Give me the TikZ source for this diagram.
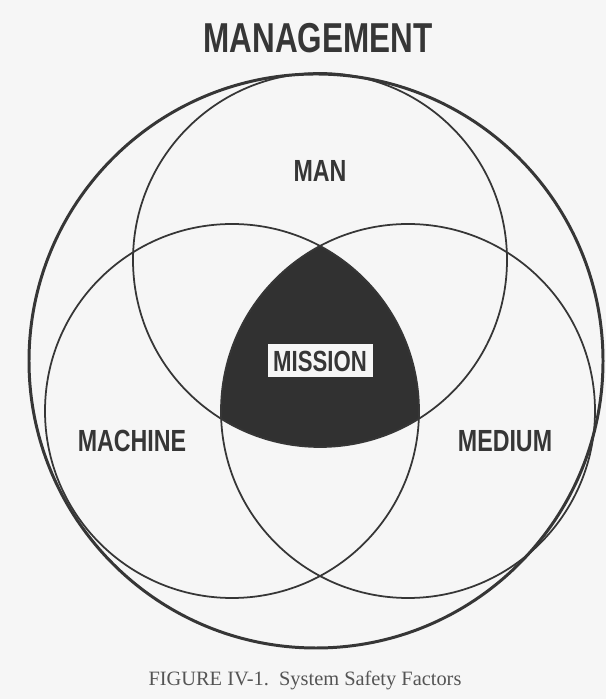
\documentclass[tikz,border=0pt]{standalone}
\usepackage{fontspec}
\setmainfont{Liberation Serif}
\setsansfont{Liberation Sans}
\usepackage{xcolor}
\usepackage{tikz}
\definecolor{inkgray}{HTML}{363636}
\definecolor{paper}{HTML}{F6F6F6}
\tikzset{
  label/.style={font=\sffamily\bfseries\fontsize{17.4}{18}\selectfont, text=inkgray, xscale=0.76, inner sep=0pt},
  ring/.style={draw=inkgray, line width=1.7pt},
  thin ring/.style={draw=inkgray, line width=1pt}
}

\begin{document}
\begin{tikzpicture}[x=0.02cm, y=0.02cm]
\fill[paper] (0,0) rectangle (606,699);
\useasboundingbox (0,0) rectangle (606,699);
% the shared part of the three factors
\begin{scope}
\clip (320,439) circle (187);
\clip (232,288) circle (187);
\fill[inkgray!90!black] (408,288) circle (187);
\end{scope}
\draw[thin ring] (320,439) circle (187);
\draw[thin ring] (232,288) circle (187);
\draw[thin ring] (408,288) circle (187);
\draw[ring] (316,338) circle (287);
\node[label, font=\sffamily\bfseries\fontsize{23.8}{25}\selectfont, xscale=0.99] (mgmt) at (318,661) {MANAGEMENT};
\node[label] (man) at (320,528) {MAN};
\node[label] (machine) at (132,258) {MACHINE};
\node[label] (medium) at (505,258) {MEDIUM};
\node[label, fill=paper, font=\sffamily\bfseries\fontsize{16.6}{17}\selectfont, minimum width=105*0.02cm/0.76, minimum height=33*0.02cm] (mission) at (320,338) {MISSION};
\node[font=\fontsize{11.6}{12}\selectfont, text=inkgray!85] (caption) at (305,18) {FIGURE IV-1.\ \ System Safety Factors};
\end{tikzpicture}
\end{document}
